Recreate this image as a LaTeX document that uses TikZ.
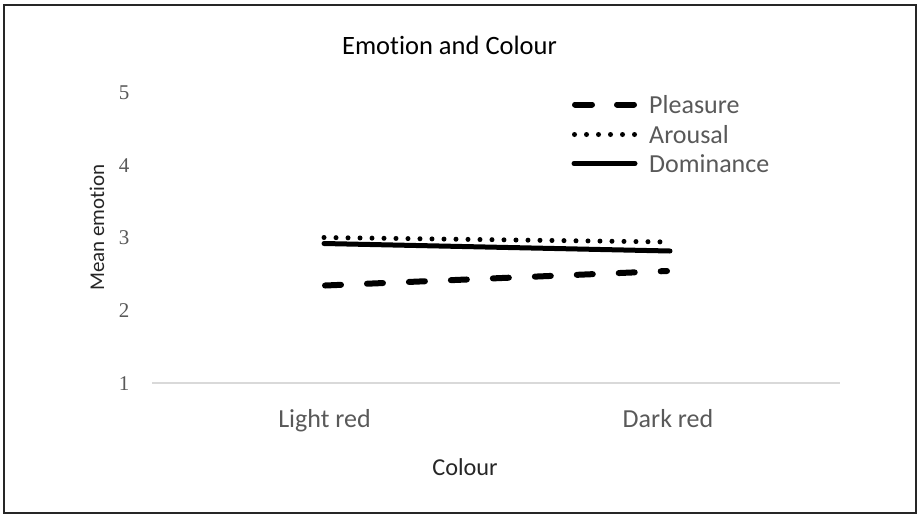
\documentclass[tikz,border=0pt]{standalone}
\usepackage{fontspec}
\setmainfont{Carlito}[Ligatures={NoCommon,NoDiscretionary,NoContextual}]
\newfontfamily\numfont{Liberation Serif}
\definecolor{ticktext}{HTML}{595959}
\definecolor{titletext}{HTML}{262626}
\definecolor{axisgray}{HTML}{D9D9D9}
\begin{document}
\begin{tikzpicture}[x=1pt,y=-1pt,
  frame/.style={draw=black!85,line width=1.6pt},
  ticknum/.style={text=ticktext,font=\numfont\fontsize{21}{24}\selectfont,inner sep=0pt,anchor=base},
  catlabel/.style={text=ticktext,font=\fontsize{26}{30}\selectfont,inner sep=0pt,anchor=base},
  axtitle/.style={text=titletext,inner sep=0pt,anchor=base},
  charttitle/.style={text=black,font=\fontsize{26.5}{30}\selectfont,inner sep=0pt,anchor=base},
  legtext/.style={text=ticktext,font=\fontsize{26}{30}\selectfont,inner sep=0pt,anchor=base west},
  pleasureline/.style={line width=6pt,line cap=round,dash pattern=on 16pt off 26pt},
  legpleasure/.style={line width=6pt,line cap=round,dash pattern=on 17pt off 25pt},
  arousalline/.style={line width=5pt,line cap=round,dash pattern=on 0pt off 12pt},
  dominanceline/.style={line width=5pt,line cap=round},
  axisline/.style={draw=axisgray,line width=1.6pt}]
\useasboundingbox (0,0) rectangle (918,515);
\draw[frame] (4,5) rectangle (916,513);
% title
\node[charttitle] (title) at (449.5,54) {Emotion and Colour};
% y tick labels
\node[ticknum] (y5) at (124,99.3) {5};
\node[ticknum] (y4) at (124,172.1) {4};
\node[ticknum] (y3) at (124,244.8) {3};
\node[ticknum] (y2) at (124,317.6) {2};
\node[ticknum] (y1) at (124,390.4) {1};
% axis line
\coordinate (axL) at (152,383);
\coordinate (axR) at (840,383);
\draw[axisline] (axL) -- (axR);
% category labels
\node[catlabel] (light) at (324.5,427) {Light red};
\node[catlabel] (dark) at (668,427) {Dark red};
% axis titles
\node[axtitle,font=\fontsize{24.3}{28}\selectfont] (xtitle) at (465,475.5) {Colour};
\node[axtitle,font=\fontsize{21}{24}\selectfont,rotate=90] (ytitle) at (104,227.5) {Mean emotion};
% data
\coordinate (pL) at (325,285.5);
\coordinate (pR) at (667,271);
\coordinate (aL) at (324,237.5);
\coordinate (aR) at (670,242);
\coordinate (dL) at (324,243.5);
\coordinate (dR) at (670,251);
\draw[dominanceline] (dL) -- (dR);
\draw[arousalline] (aL) -- (aR);
\draw[pleasureline] (pL) -- (pR);
% legend
\coordinate (l1a) at (575,104.5);
\coordinate (l1b) at (634,104.5);
\coordinate (l2a) at (574.5,134.5);
\coordinate (l2b) at (635,134.5);
\coordinate (l3a) at (574,163.5);
\coordinate (l3b) at (635,163.5);
\draw[legpleasure] (l1a) -- (l1b);
\draw[arousalline] (l2a) -- (l2b);
\draw[dominanceline] (l3a) -- (l3b);
\node[legtext] (lp) at (649,113.5) {Pleasure};
\node[legtext] (la) at (649,143) {Arousal};
\node[legtext] (ld) at (649,172) {Dominance};
\end{tikzpicture}
\end{document}
